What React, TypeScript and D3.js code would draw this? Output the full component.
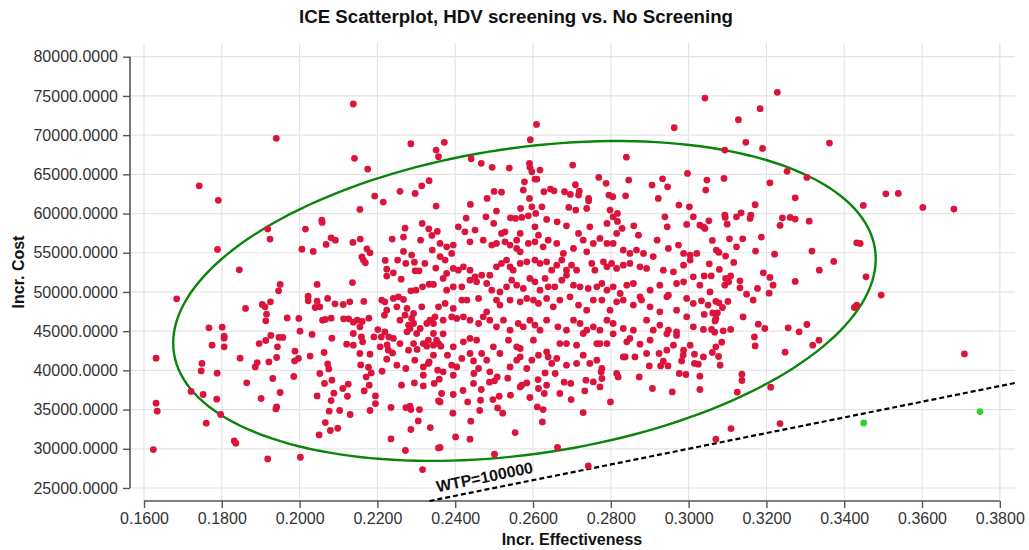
import { useEffect, useRef } from 'react'
import * as d3 from 'd3'

const chartTitle = 'ICE Scatterplot, HDV screening vs. No Screening'
const xTitle = 'Incr. Effectiveness'
const yTitle = 'Incr. Cost'

const xTicks = [0.16, 0.18, 0.2, 0.22, 0.24, 0.26, 0.28, 0.3, 0.32, 0.34, 0.36, 0.38]
const yTicks = [25000, 30000, 35000, 40000, 45000, 50000, 55000, 60000, 65000, 70000, 75000, 80000]
const xDomain = [0.1564, 0.3839]
const yDomain = [23340, 81750]

const wtp = 100000
const wtpLabelAt = 0.2358

// 95% confidence ellipse (center, half-extent on each axis, correlation)
const ellipseCenter = [0.2578, 48850]
const ellipseSpread = [0.0903, 20400]
const ellipseCorr = 0.263

// [incr. effectiveness, incr. cost] per PSA iteration
const psaSamples = [
  [0.1742, 63540], [0.1791, 61680], [0.194, 69590], [0.2138, 73970], [0.2141, 67040], [0.2175, 65670], [0.2286, 68900], [0.2351, 68100], [0.2357, 67240], [0.2333, 64180], [0.2314, 63540], [0.2297, 62570], [0.2258, 62830], [0.2193, 62230], [0.2215, 61460], [0.2155, 60530], [0.2351, 60950], [0.2057, 59160],
  [0.1918, 58020], [0.1924, 56740], [0.1789, 55420], [0.1845, 52820], [0.1684, 49120], [0.2015, 58020], [0.2058, 58870], [0.2006, 55460], [0.2035, 55170], [0.2068, 56060], [0.2081, 56900], [0.2092, 56610], [0.2137, 56320], [0.2156, 56740], [0.2173, 55500], [0.2181, 54990], [0.216, 54480], [0.2164, 54060], [0.2169, 53720], [0.2238, 56740], [0.2267, 57000], [0.2271, 58140], [0.2315, 58740], [0.2332, 58050], [0.234, 57210], [0.2354, 57720], [0.2311, 56610], [0.2267, 55170], [0.2288, 54700], [0.2252, 54060], [0.2273, 53640], [0.222, 54020], [0.2224, 52910], [0.2241, 52440], [0.2224, 52020], [0.2261, 51630], [0.2295, 53800], [0.2322, 53640], [0.2297, 52690], [0.2307, 52690], [0.2341, 55340], [0.235, 53040], [0.2333, 50980], [0.2286, 50140], [0.2299, 50230], [0.2316, 50650], [0.2344, 50960], [0.2136, 51200], [0.2045, 50960], [0.195, 50960], [0.1946, 50140], [0.2022, 49460], [0.2022, 48880], [0.2045, 48830], [0.2052, 48100], [0.2072, 49170], [0.2091, 48480], [0.2112, 48400], [0.2129, 48740], [0.2165, 48790], [0.204, 48020], [0.2081, 46660], [0.2059, 46400], [0.2066, 46490], [0.1968, 46690], [0.1998, 46620], [0.2032, 44580], [0.2001, 45000], [0.2083, 44110], [0.2113, 46570], [0.2126, 46570], [0.2138, 46150], [0.2148, 46400], [0.2161, 46240], [0.2178, 46660], [0.2155, 45550], [0.2138, 44700], [0.2159, 44270], [0.2201, 45200], [0.2191, 44270], [0.221, 44270], [0.2229, 44270], [0.2225, 43250], [0.2207, 43000], [0.1904, 48400], [0.1911, 48100], [0.1915, 47170], [0.1913, 46320], [0.1925, 48740], [0.1861, 47900], [0.1767, 45420], [0.1801, 45510], [0.1806, 44360], [0.1806, 44110], [0.1775, 43210], [0.1806, 43000], [0.1896, 43420], [0.1913, 43810], [0.1926, 44450], [0.1943, 43000], [0.1947, 44200], [0.1957, 44200],
  [0.2211, 48960], [0.2219, 48740], [0.2224, 47680], [0.2218, 47040], [0.2241, 49170], [0.2254, 49380], [0.2267, 49040], [0.225, 48100], [0.2276, 47900], [0.2271, 47040], [0.2293, 47260], [0.2314, 48100], [0.2288, 46620], [0.2258, 46400], [0.228, 45770], [0.2293, 45980], [0.2284, 45340], [0.231, 45340], [0.2276, 44910], [0.2301, 44700], [0.2327, 45980], [0.2335, 46400], [0.2344, 45980], [0.2357, 48100], [0.2348, 46830], [0.2344, 44700], [0.2331, 43850], [0.2352, 43850], [0.2318, 43420], [0.2293, 43420], [0.2258, 43420], [0.2241, 44070], [0.2219, 44910],
  [0.1631, 41560], [0.1631, 35820], [0.1634, 34790], [0.1624, 29900], [0.1749, 40880], [0.1747, 39930], [0.1788, 39640], [0.1721, 37310], [0.1752, 36920], [0.1787, 36320], [0.1797, 34370], [0.176, 33260], [0.1832, 31000], [0.1836, 30710], [0.1918, 28700], [0.2002, 28920], [0.1847, 41560], [0.1864, 38410], [0.1941, 41640], [0.1921, 41080], [0.1891, 41000], [0.1886, 40440], [0.1931, 38960], [0.195, 37180], [0.1901, 36410], [0.1941, 35340], [0.1939, 35080], [0.1985, 39220], [0.1987, 41210], [0.1997, 41520], [0.1988, 42450], [0.2027, 41820], [0.2063, 42280], [0.2072, 40820], [0.2075, 40190], [0.2052, 39600], [0.2083, 38750], [0.2064, 38330], [0.2088, 37090], [0.2081, 36150], [0.2045, 36740], [0.2123, 36700], [0.2111, 37690], [0.2125, 38240], [0.2103, 34880], [0.2076, 34790], [0.2066, 33340], [0.2079, 32330], [0.2098, 32620], [0.205, 31770], [0.213, 34370], [0.2181, 34880], [0.2195, 36740], [0.2195, 35770], [0.2179, 38110], [0.2166, 37380], [0.2184, 39680], [0.2171, 39170], [0.2177, 40410], [0.2157, 40700], [0.2181, 42070], [0.2155, 42150], [0.2138, 43210], [0.2121, 43340], [0.2162, 43640], [0.2228, 42580], [0.2224, 41430], [0.2239, 42230], [0.225, 40660], [0.2212, 39890], [0.2235, 35270], [0.2273, 35260], [0.2284, 35430], [0.2286, 35000], [0.2308, 35000], [0.2235, 31260], [0.2272, 29780], [0.2316, 27350], [0.2286, 32460], [0.2305, 33550], [0.2336, 32710], [0.2357, 30110], [0.2357, 36110], [0.2262, 38110], [0.2295, 38400], [0.2318, 38020], [0.2273, 40240], [0.2296, 41300], [0.2318, 40440], [0.2333, 41080], [0.2355, 40020], [0.2346, 38330], [0.228, 42580], [0.2302, 42670], [0.2327, 43090], [0.2344, 43210], [0.2357, 43420],
  [0.3042, 74730], [0.2963, 70940], [0.2609, 71370], [0.2593, 69410], [0.2372, 69080], [0.2441, 66990], [0.2467, 66400], [0.2495, 65890], [0.2539, 65800], [0.2591, 66400], [0.2592, 65890], [0.2597, 65330], [0.2618, 65540], [0.2605, 64390], [0.261, 64390], [0.2578, 64050], [0.2575, 62990], [0.2591, 61930], [0.2568, 60650], [0.2597, 60860], [0.2607, 60010], [0.2588, 59710], [0.2542, 59460], [0.2555, 59380], [0.2571, 59510], [0.25, 62820], [0.2519, 62730], [0.2482, 61930], [0.2439, 61160], [0.2506, 60310], [0.2479, 59580], [0.2499, 58740], [0.2428, 59420], [0.2628, 62780], [0.2645, 63120], [0.2654, 62900], [0.2681, 62780], [0.2696, 62440], [0.2709, 63670], [0.2719, 62860], [0.2717, 62350], [0.2702, 66180], [0.2623, 60860], [0.2635, 59250], [0.2662, 58950], [0.2686, 58440], [0.2692, 60780], [0.271, 60440], [0.2743, 61930], [0.2743, 61630], [0.2738, 60650], [0.2746, 58310], [0.2769, 64610], [0.2788, 63850], [0.2795, 62350], [0.2805, 62140], [0.2798, 60440], [0.2806, 59580], [0.2817, 60010], [0.2817, 58990], [0.284, 67190], [0.2846, 64270], [0.2838, 62260], [0.2859, 58440], [0.2906, 63630], [0.2933, 64430], [0.2946, 63410], [0.2922, 61930], [0.2939, 59580], [0.2945, 58310], [0.2975, 61080], [0.2997, 65120], [0.3002, 60860], [0.3012, 59580], [0.3047, 64270], [0.3044, 62990], [0.3052, 59070], [0.3038, 58310], [0.3029, 58520], [0.2995, 58610],
  [0.3228, 75460], [0.3184, 73370], [0.3128, 71960], [0.3147, 69080], [0.3093, 68100], [0.319, 68310], [0.3362, 68990], [0.3253, 65380], [0.3304, 64610], [0.3209, 63920], [0.3091, 64480], [0.3274, 62010], [0.3171, 61120], [0.3449, 61040], [0.3507, 62520], [0.3539, 62570], [0.3602, 60780], [0.3682, 60570], [0.3093, 59800], [0.3094, 59510], [0.3099, 58650], [0.3123, 59580], [0.3135, 60090], [0.3158, 59380], [0.316, 59800], [0.3241, 59460], [0.3261, 59510], [0.3274, 59290], [0.3235, 58490], [0.331, 59030], [0.3187, 57000], [0.3061, 56570], [0.3105, 56780], [0.3139, 56780], [0.3432, 56270], [0.3441, 56190],
  [0.3123, 55760], [0.3071, 55340], [0.3078, 55040], [0.3172, 55210], [0.3221, 54820], [0.3095, 54570], [0.3317, 55210], [0.3373, 53890], [0.3053, 53590], [0.3116, 53760], [0.3336, 52780], [0.304, 52050], [0.3058, 52050], [0.3079, 52870], [0.3108, 52050], [0.3095, 51720], [0.3103, 51290], [0.3093, 50870], [0.3132, 51420], [0.3192, 52440], [0.3209, 51850], [0.3217, 50870], [0.3274, 51340], [0.3029, 50870], [0.3132, 50530], [0.3177, 50450], [0.3207, 49850], [0.3149, 49720], [0.3166, 48960], [0.3033, 48870], [0.307, 48790], [0.3078, 48610], [0.3101, 48790], [0.3087, 48020], [0.304, 47130], [0.3062, 47330], [0.3074, 47330], [0.307, 46620], [0.3068, 46310], [0.314, 46820], [0.3179, 45890], [0.3196, 45340], [0.3256, 45420], [0.3284, 44910], [0.3304, 45850], [0.3038, 45220], [0.3059, 45220], [0.3067, 44870], [0.3089, 45040], [0.3108, 45220], [0.3085, 43600], [0.3169, 44270], [0.3171, 43120], [0.3248, 42320], [0.3319, 43210], [0.3335, 43850], [0.3061, 42280], [0.3077, 41770], [0.3081, 40660], [0.3029, 39260], [0.3137, 39510], [0.3137, 38710], [0.3029, 37560], [0.3125, 37220], [0.3211, 37860], [0.3235, 33220], [0.3426, 48020], [0.3432, 48320], [0.3456, 51930], [0.3495, 49600], [0.3709, 42100], [0.3109, 32580], [0.345, 33300], [0.3749, 34750],
  [0.2501, 29300], [0.2663, 30160], [0.2742, 27810], [0.307, 31220], [0.2361, 30160], [0.2401, 31510], [0.2438, 31220], [0.2554, 32070], [0.244, 33520], [0.2394, 34540], [0.2463, 34880], [0.2509, 35210], [0.2522, 34540], [0.2611, 35340], [0.2626, 35000], [0.2624, 33420], [0.2729, 34620], [0.2799, 35980], [0.2361, 35980], [0.2395, 36920], [0.2432, 35980], [0.2465, 36190], [0.2497, 36280], [0.2513, 36700], [0.2542, 36830], [0.2567, 37890], [0.2592, 36540], [0.2614, 37690], [0.2629, 37050], [0.2669, 37050], [0.2698, 36280], [0.2733, 37380], [0.2772, 37890], [0.2359, 38880], [0.2365, 37050], [0.242, 37430], [0.2447, 38330], [0.2467, 37560], [0.2488, 38490], [0.2501, 38660], [0.2508, 39170], [0.2535, 39000], [0.2571, 38110], [0.2584, 38400], [0.2613, 38830], [0.2631, 39680], [0.2635, 38110], [0.2657, 39600], [0.268, 38490], [0.2697, 38330], [0.2736, 38750], [0.2755, 38530], [0.2775, 39800], [0.2777, 38960], [0.2815, 39600], [0.2819, 39170], [0.2873, 39170], [0.2907, 37690], [0.2958, 37250], [0.2976, 39600], [0.2993, 39470], [0.2899, 40570], [0.2928, 40570], [0.2947, 40570], [0.2935, 41170], [0.2982, 41210], [0.3015, 40880], [0.3025, 40790], [0.2837, 41720], [0.2862, 41720], [0.2892, 42150], [0.2924, 42150], [0.3015, 42070],
  [0.2318, 39380], [0.2331, 40880], [0.2344, 41940], [0.2363, 43090], [0.238, 41940], [0.2391, 40660], [0.2404, 40440], [0.2369, 39810], [0.2395, 39380], [0.2417, 41520], [0.2438, 42150], [0.2447, 41210], [0.246, 40240], [0.2448, 39600], [0.2489, 39810], [0.2541, 40440], [0.2558, 41300], [0.2567, 42790], [0.2584, 40240], [0.2597, 41300], [0.2614, 41940], [0.2635, 42360], [0.2648, 40880], [0.2661, 41520], [0.2686, 40660], [0.2712, 40880], [0.2729, 41940], [0.2764, 43420], [0.2764, 41300], [0.2777, 40240], [0.2841, 43640], [0.2875, 43340], [0.2961, 43210], [0.2986, 41940], [0.2944, 42580],
  [0.2408, 58310], [0.2425, 57670], [0.2451, 57890], [0.2519, 57460], [0.2528, 57670], [0.2567, 57460], [0.2605, 58310], [0.2614, 57240], [0.2717, 57460], [0.279, 58740], [0.2829, 58100], [0.2871, 57240], [0.2815, 57460], [0.3042, 58100], [0.2919, 56610],
  [0.2361, 56190], [0.2378, 55760], [0.2395, 55980], [0.2391, 54910], [0.2438, 56390], [0.2472, 56610], [0.2494, 55980], [0.2506, 56190], [0.2528, 56390], [0.2541, 55980], [0.2558, 56610], [0.2558, 55550], [0.2567, 55120], [0.2588, 56190], [0.2605, 56390], [0.2626, 55760], [0.2639, 56610], [0.2661, 56190], [0.2678, 54910], [0.2704, 55550], [0.2729, 56610], [0.2738, 55120], [0.2755, 56190], [0.2772, 56830], [0.279, 56190], [0.2806, 56190], [0.2832, 55340], [0.2849, 54910], [0.2866, 55340], [0.2884, 54910], [0.2948, 55550], [0.2974, 55980], [0.2987, 54910], [0.3004, 54700], [0.3021, 54910],
  [0.2361, 54510], [0.2374, 54060], [0.2378, 52360], [0.2395, 53000], [0.2408, 52780], [0.2421, 53200], [0.2438, 52780], [0.2451, 51930], [0.2468, 52140], [0.2489, 52140], [0.2506, 53200], [0.2519, 53640], [0.2532, 54060], [0.2541, 53200], [0.2549, 52780], [0.2567, 53640], [0.2584, 53840], [0.2605, 54060], [0.2618, 53640], [0.2635, 53840], [0.2648, 52780], [0.2661, 53420], [0.2674, 54060], [0.2686, 52780], [0.2699, 53420], [0.2712, 52780], [0.2751, 53640], [0.2759, 52780], [0.2781, 53840], [0.279, 53200], [0.2802, 53640], [0.2815, 53000], [0.2832, 53420], [0.2849, 53640], [0.2875, 53200], [0.2892, 53000], [0.2909, 54510], [0.2935, 52780], [0.2961, 52570], [0.2987, 53420], [0.3004, 54060],
  [0.2369, 51720], [0.2378, 50230], [0.2395, 50650], [0.2417, 50650], [0.2438, 51500], [0.2455, 51290], [0.2481, 51080], [0.2494, 50230], [0.2515, 50010], [0.2532, 50650], [0.2545, 51500], [0.2558, 50870], [0.2575, 50450], [0.2592, 51720], [0.2605, 51290], [0.2618, 50230], [0.2631, 51720], [0.2639, 50650], [0.2656, 50650], [0.2674, 51500], [0.2686, 52140], [0.2704, 50870], [0.2721, 50650], [0.2742, 50450], [0.2764, 50650], [0.2777, 51080], [0.279, 50230], [0.2806, 50650], [0.2824, 49800], [0.2841, 50870], [0.2858, 51080], [0.2875, 49380], [0.2901, 50230], [0.2926, 50870], [0.2948, 49590], [0.2969, 51080], [0.2987, 51290], [0.3012, 51930], [0.3055, 50010],
  [0.2374, 48540], [0.2395, 47900], [0.2417, 48960], [0.243, 48960], [0.246, 49170], [0.2481, 47460], [0.2506, 48960], [0.2515, 48330], [0.2541, 48960], [0.2567, 48740], [0.2584, 49170], [0.2601, 48960], [0.2614, 48540], [0.2635, 49170], [0.2652, 48100], [0.2669, 48960], [0.2695, 49380], [0.2717, 48330], [0.2738, 47680], [0.2755, 48960], [0.2777, 48960], [0.2798, 47680], [0.2815, 48740], [0.2832, 48960], [0.2858, 48330], [0.2879, 48960], [0.2901, 48100], [0.2926, 47460], [0.2944, 49380], [0.2969, 47680], [0.2995, 49170], [0.3012, 48540], [0.305, 48330],
  [0.2369, 46400], [0.2391, 46830], [0.2404, 46620], [0.2421, 46830], [0.2438, 46400], [0.246, 45980], [0.2472, 46830], [0.2489, 46400], [0.2506, 45550], [0.2524, 46400], [0.2541, 45130], [0.2562, 45980], [0.2575, 45550], [0.2592, 46400], [0.2605, 45770], [0.2618, 45130], [0.2635, 46400], [0.2664, 45550], [0.2686, 45130], [0.2704, 46400], [0.2721, 45980], [0.2738, 45130], [0.2755, 45550], [0.2772, 45130], [0.279, 46400], [0.2806, 45980], [0.2832, 45340], [0.2858, 45130], [0.2892, 46400], [0.2909, 45130], [0.2926, 45770], [0.2948, 45130], [0.2969, 44910], [0.2995, 46830], [0.3012, 45550],
  [0.2369, 44660], [0.2395, 43000], [0.2421, 43640], [0.2438, 44070], [0.2455, 43850], [0.2468, 42150], [0.2481, 41300], [0.2498, 43000], [0.2515, 42150], [0.2537, 43850], [0.2558, 43000], [0.2567, 41720], [0.2601, 43850], [0.2639, 41720], [0.2669, 43420], [0.2686, 43420], [0.2712, 43210], [0.2729, 44700], [0.2746, 40880], [0.2772, 43420], [0.279, 43420], [0.2806, 44660], [0.2832, 41720], [0.2849, 44070], [0.2901, 43850], [0.2944, 44660], [0.2969, 44450], [0.2987, 42580], [0.3004, 43210], [0.3038, 41720], [0.307, 43000],
]

const font = "'Liberation Sans', Arial, Helvetica, sans-serif"

export default function App() {
  const svgRef = useRef<SVGSVGElement>(null)

  useEffect(() => {
    if (!svgRef.current) return
    const svg = d3.select(svgRef.current)
    svg.selectAll('*').remove()

    const x = d3.scaleLinear().domain(xDomain).range([130, 1015])
    const y = d3.scaleLinear().domain(yDomain).range([501, 43])
    const [x0, x1] = x.range()
    const [y0, y1] = y.range()

    // grid
    const grid = svg.append('g').attr('stroke', '#e4e4e4').attr('stroke-width', 1.2)
    grid.selectAll('.vg').data(xTicks).join('line')
      .attr('x1', (d) => x(d)).attr('x2', (d) => x(d))
      .attr('y1', y1).attr('y2', y0)
    grid.selectAll('.hg').data(yTicks).join('line')
      .attr('x1', x0).attr('x2', x1)
      .attr('y1', (d) => y(d)).attr('y2', (d) => y(d))

    // axes
    const fmt = d3.format('.4f')
    const xAxis = d3.axisBottom(x).tickValues(xTicks).tickFormat((d) => fmt(d as number))
      .tickSize(7).tickPadding(5).tickSizeOuter(0)
    const yAxis = d3.axisLeft(y).tickValues(yTicks).tickFormat((d) => fmt(d as number))
      .tickSize(7).tickPadding(5).tickSizeOuter(0)

    const gx = svg.append('g').attr('transform', `translate(0, ${y0})`).call(xAxis)
    const gy = svg.append('g').attr('transform', `translate(${x0}, 0)`).call(yAxis)
    gx.select('.domain').remove()
    gy.select('.domain').remove()
    gx.append('line')
      .attr('x1', x(xTicks[0])).attr('x2', x(xTicks[xTicks.length - 1]))
      .attr('stroke', '#555').attr('stroke-width', 1.6)
    gy.append('line')
      .attr('y1', y(yTicks[0])).attr('y2', y(yTicks[yTicks.length - 1]))
      .attr('stroke', '#555').attr('stroke-width', 1.6)
    svg.selectAll('.tick line').attr('stroke', '#555').attr('stroke-width', 1.4)
    svg.selectAll('.tick text')
      .attr('fill', '#333')
      .attr('font-size', '16px')
      .attr('font-family', font)

    // WTP line
    const e0 = Math.max(xDomain[0], yDomain[0] / wtp)
    const e1 = xDomain[1]
    svg.append('line')
      .attr('x1', x(e0)).attr('y1', y(e0 * wtp))
      .attr('x2', x(e1)).attr('y2', y(e1 * wtp))
      .attr('stroke', '#000')
      .attr('stroke-width', 2.2)
      .attr('stroke-dasharray', '5,3')

    const angle = Math.atan2(y(e1 * wtp) - y(e0 * wtp), x(e1) - x(e0)) * 180 / Math.PI
    svg.append('text')
      .attr('transform', `translate(${x(wtpLabelAt)}, ${y(wtpLabelAt * wtp)}) rotate(${angle})`)
      .attr('dy', -7)
      .attr('font-family', font)
      .attr('font-weight', 'bold')
      .attr('font-size', '16px')
      .attr('fill', '#111')
      .text(`WTP=${wtp}`)

    // confidence ellipse
    const ts = d3.range(0, 2 * Math.PI, Math.PI / 90)
    const rr = Math.sqrt(1 - ellipseCorr * ellipseCorr)
    const ellipse = d3.line<number>()
      .x((t) => x(ellipseCenter[0] + ellipseSpread[0] * Math.cos(t)))
      .y((t) => y(ellipseCenter[1] + ellipseSpread[1] * (ellipseCorr * Math.cos(t) + rr * Math.sin(t))))
      .curve(d3.curveLinearClosed)
    svg.append('path')
      .attr('d', ellipse(ts))
      .attr('fill', 'none')
      .attr('stroke', '#0a840a')
      .attr('stroke-width', 2.4)

    // points
    svg.append('g').selectAll('circle').data(psaSamples).join('circle')
      .attr('cx', (d) => x(d[0]))
      .attr('cy', (d) => y(d[1]))
      .attr('r', 3.4)
      .attr('fill', (d) => (d[1] > d[0] * wtp ? '#dc143c' : '#32cd32'))

    // titles
    svg.append('text')
      .attr('x', 516).attr('y', 23)
      .attr('text-anchor', 'middle')
      .attr('font-family', font).attr('font-weight', 'bold').attr('font-size', '18.7px')
      .attr('fill', '#111')
      .text(chartTitle)
    svg.append('text')
      .attr('x', (x(xTicks[0]) + x(xTicks[xTicks.length - 1])) / 2).attr('y', 545)
      .attr('text-anchor', 'middle')
      .attr('font-family', font).attr('font-weight', 'bold').attr('font-size', '16px')
      .attr('fill', '#111')
      .text(xTitle)
    svg.append('text')
      .attr('transform', `translate(24, ${(y0 + y1) / 2}) rotate(-90)`)
      .attr('text-anchor', 'middle')
      .attr('font-family', font).attr('font-weight', 'bold').attr('font-size', '16px')
      .attr('fill', '#111')
      .text(yTitle)
  }, [])

  return (
    <div>
      <style>{'body { margin: 0; background: #fff; }'}</style>
      <svg ref={svgRef} width={1029} height={550} style={{ display: 'block' }}></svg>
    </div>
  )
}
